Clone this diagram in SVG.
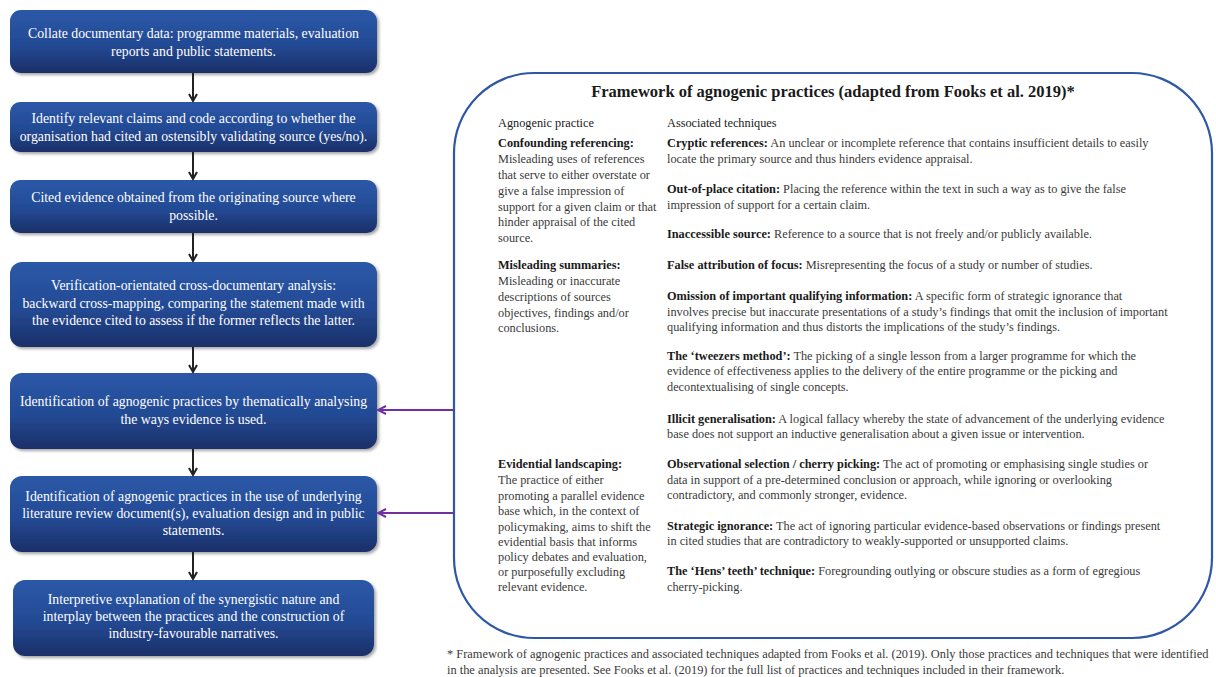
<svg xmlns="http://www.w3.org/2000/svg" width="1216" height="677" viewBox="0 0 1216 677">
<defs>
<linearGradient id="boxGrad" x1="0" y1="0" x2="0" y2="1">
<stop offset="0" stop-color="#2c58a8"/>
<stop offset="0.55" stop-color="#234a94"/>
<stop offset="1" stop-color="#1b2f68"/>
</linearGradient>
<filter id="shadow" x="-5%" y="-10%" width="115%" height="130%">
<feDropShadow dx="2" dy="2" stdDeviation="1.6" flood-color="#000" flood-opacity="0.35"/>
</filter>
<marker id="blackHead" markerWidth="10" markerHeight="10" refX="8" refY="5" orient="auto" markerUnits="userSpaceOnUse">
<path d="M1,1 L8,5 L1,9" fill="none" stroke="#222" stroke-width="2"/>
</marker>
<marker id="purpleHead" markerWidth="12" markerHeight="12" refX="10" refY="6" orient="auto" markerUnits="userSpaceOnUse">
<path d="M2,2 L10,6 L2,10" fill="none" stroke="#7030a0" stroke-width="2"/>
</marker>
<style>
.box{fill:url(#boxGrad);filter:url(#shadow);}
.bt{font-family:"Liberation Serif","Times New Roman",serif;font-size:13.8px;fill:#ffffff;text-anchor:middle;}
.pt{font-family:"Liberation Serif","Times New Roman",serif;font-size:12.3px;fill:#3a3a3a;}
.b{font-weight:bold;fill:#1a1a1a;}
.hd{fill:#1a1a1a;}
.title{font-family:"Liberation Serif","Times New Roman",serif;font-size:16.5px;font-weight:bold;fill:#1a1a1a;text-anchor:middle;}
.fn{font-family:"Liberation Serif","Times New Roman",serif;font-size:12.4px;fill:#3a3a3a;}
.conn{stroke:#222;stroke-width:2;fill:none;}
.pconn{stroke:#7030a0;stroke-width:2;fill:none;}
</style>
</defs>
<rect width="1216" height="677" fill="#ffffff"/>

<g id="step1">
<rect class="box" x="10" y="10" width="367" height="63" rx="11"/>
<text class="bt" x="193.5" y="37.5">Collate documentary data: programme materials, evaluation</text>
<text class="bt" x="193.5" y="56">reports and public statements.</text>
</g>
<g id="step2">
<rect class="box" x="10" y="102" width="367" height="50" rx="10"/>
<text class="bt" x="193.5" y="122.5">Identify relevant claims and code according to whether the</text>
<text class="bt" x="193.5" y="140.5">organisation had cited an ostensibly validating source (yes/no).</text>
</g>
<g id="step3">
<rect class="box" x="10" y="180" width="367" height="53" rx="10"/>
<text class="bt" x="193.5" y="202">Cited evidence obtained from the originating source where</text>
<text class="bt" x="193.5" y="220">possible.</text>
</g>
<g id="step4">
<rect class="box" x="10" y="262" width="367" height="85" rx="12"/>
<text class="bt" x="193.5" y="290">Verification-orientated cross-documentary analysis:</text>
<text class="bt" x="193.5" y="307.5">backward cross-mapping, comparing the statement made with</text>
<text class="bt" x="193.5" y="325">the evidence cited to assess if the former reflects the latter.</text>
</g>
<g id="step5">
<rect class="box" x="10" y="373" width="367" height="76" rx="12"/>
<text class="bt" x="193.5" y="406">Identification of agnogenic practices by thematically analysing</text>
<text class="bt" x="193.5" y="423.5">the ways evidence is used.</text>
</g>
<g id="step6">
<rect class="box" x="10" y="476" width="367" height="76" rx="12"/>
<text class="bt" x="193.5" y="501">Identification of agnogenic practices in the use of underlying</text>
<text class="bt" x="193.5" y="518">literature review document(s), evaluation design and in public</text>
<text class="bt" x="193.5" y="535">statements.</text>
</g>
<g id="step7">
<rect class="box" x="13" y="580" width="361" height="76" rx="12"/>
<text class="bt" x="193.5" y="604">Interpretive explanation of the synergistic nature and</text>
<text class="bt" x="193.5" y="621">interplay between the practices and the construction of</text>
<text class="bt" x="193.5" y="638">industry-favourable narratives.</text>
</g>

<g id="connectors">
<line class="conn" x1="193" y1="73" x2="193" y2="101" marker-end="url(#blackHead)"/>
<line class="conn" x1="193" y1="152" x2="193" y2="179" marker-end="url(#blackHead)"/>
<line class="conn" x1="193" y1="233" x2="193" y2="261" marker-end="url(#blackHead)"/>
<line class="conn" x1="193" y1="347" x2="193" y2="372" marker-end="url(#blackHead)"/>
<line class="conn" x1="193" y1="449" x2="193" y2="475" marker-end="url(#blackHead)"/>
<line class="conn" x1="193" y1="552" x2="193" y2="579" marker-end="url(#blackHead)"/>
<line class="pconn" x1="454" y1="410" x2="378" y2="410" marker-end="url(#purpleHead)"/>
<line class="pconn" x1="454" y1="513" x2="378" y2="513" marker-end="url(#purpleHead)"/>
</g>

<g id="framework">
<rect x="454" y="73" width="758" height="565" rx="80" ry="80" fill="none" stroke="#2e57a6" stroke-width="2.2"/>
<text class="title" x="833" y="97">Framework of agnogenic practices (adapted from Fooks et al. 2019)*</text>
<text class="pt hd" x="498" y="127">Agnogenic practice</text>
<text class="pt hd" x="667" y="127">Associated techniques</text>

<g id="practice-confounding">
<text class="pt" x="498" y="147"><tspan class="b">Confounding referencing:</tspan></text>
<text class="pt" x="498" y="163">Misleading uses of references</text>
<text class="pt" x="498" y="179">that serve to either overstate or</text>
<text class="pt" x="498" y="195">give a false impression of</text>
<text class="pt" x="498" y="211">support for a given claim or that</text>
<text class="pt" x="498" y="226">hinder appraisal of the cited</text>
<text class="pt" x="498" y="242">source.</text>
</g>
<g id="practice-summaries">
<text class="pt" x="498" y="269"><tspan class="b">Misleading summaries:</tspan></text>
<text class="pt" x="498" y="285">Misleading or inaccurate</text>
<text class="pt" x="498" y="301">descriptions of sources</text>
<text class="pt" x="498" y="317">objectives, findings and/or</text>
<text class="pt" x="498" y="332">conclusions.</text>
</g>
<g id="practice-landscaping">
<text class="pt" x="498" y="468"><tspan class="b">Evidential landscaping:</tspan></text>
<text class="pt" x="498" y="484">The practice of either</text>
<text class="pt" x="498" y="500">promoting a parallel evidence</text>
<text class="pt" x="498" y="515">base which, in the context of</text>
<text class="pt" x="498" y="531">policymaking, aims to shift the</text>
<text class="pt" x="498" y="546">evidential basis that informs</text>
<text class="pt" x="498" y="561">policy debates and evaluation,</text>
<text class="pt" x="498" y="576">or purposefully excluding</text>
<text class="pt" x="498" y="591">relevant evidence.</text>
</g>

<g id="techniques">
<text class="pt" x="667" y="147"><tspan class="b">Cryptic references:</tspan> An unclear or incomplete reference that contains insufficient details to easily</text>
<text class="pt" x="667" y="163">locate the primary source and thus hinders evidence appraisal.</text>
<text class="pt" x="667" y="193"><tspan class="b">Out-of-place citation:</tspan> Placing the reference within the text in such a way as to give the false</text>
<text class="pt" x="667" y="209">impression of support for a certain claim.</text>
<text class="pt" x="667" y="238"><tspan class="b">Inaccessible source:</tspan> Reference to a source that is not freely and/or publicly available.</text>
<text class="pt" x="667" y="269"><tspan class="b">False attribution of focus:</tspan> Misrepresenting the focus of a study or number of studies.</text>
<text class="pt" x="667" y="300"><tspan class="b">Omission of important qualifying information:</tspan> A specific form of strategic ignorance that</text>
<text class="pt" x="667" y="316">involves precise but inaccurate presentations of a study’s findings that omit the inclusion of important</text>
<text class="pt" x="667" y="331">qualifying information and thus distorts the implications of the study’s findings.</text>
<text class="pt" x="667" y="360"><tspan class="b">The ‘tweezers method’:</tspan> The picking of a single lesson from a larger programme for which the</text>
<text class="pt" x="667" y="375">evidence of effectiveness applies to the delivery of the entire programme or the picking and</text>
<text class="pt" x="667" y="391">decontextualising of single concepts.</text>
<text class="pt" x="667" y="423"><tspan class="b">Illicit generalisation:</tspan> A logical fallacy whereby the state of advancement of the underlying evidence</text>
<text class="pt" x="667" y="438">base does not support an inductive generalisation about a given issue or intervention.</text>
<text class="pt" x="667" y="468"><tspan class="b">Observational selection / cherry picking:</tspan> The act of promoting or emphasising single studies or</text>
<text class="pt" x="667" y="484">data in support of a pre-determined conclusion or approach, while ignoring or overlooking</text>
<text class="pt" x="667" y="499">contradictory, and commonly stronger, evidence.</text>
<text class="pt" x="667" y="530"><tspan class="b">Strategic ignorance:</tspan> The act of ignoring particular evidence-based observations or findings present</text>
<text class="pt" x="667" y="545">in cited studies that are contradictory to weakly-supported or unsupported claims.</text>
<text class="pt" x="667" y="575"><tspan class="b">The ‘Hens’ teeth’ technique:</tspan> Foregrounding outlying or obscure studies as a form of egregious</text>
<text class="pt" x="667" y="591">cherry-picking.</text>
</g>
</g>

<g id="footnote">
<text class="fn" x="447" y="658">*  Framework of agnogenic practices and associated techniques adapted from Fooks et al. (2019). Only those practices and techniques that were identified</text>
<text class="fn" x="447" y="674">in the analysis are presented. See Fooks et al. (2019) for the full list of practices and techniques included in their framework.</text>
</g>
</svg>
